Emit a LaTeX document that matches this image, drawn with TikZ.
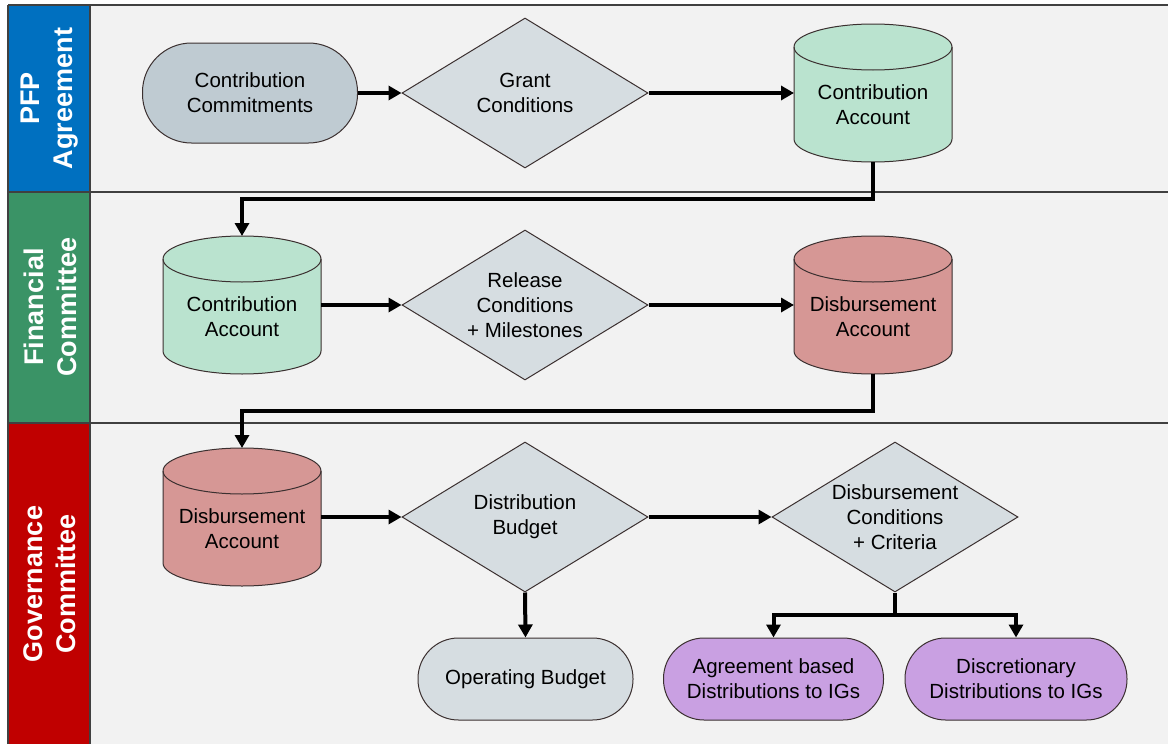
\documentclass[tikz,border=0pt]{standalone}
\usepackage{fontspec}
\setmainfont{Liberation Sans}
\usetikzlibrary{shapes.geometric,arrows.meta}
\definecolor{bgc}{HTML}{F2F2F2}
\definecolor{laneblue}{HTML}{0070C0}
\definecolor{lanegreen}{HTML}{3A9366}
\definecolor{lanered}{HTML}{C00000}
\definecolor{bordc}{HTML}{3B3030}
\definecolor{cgray}{HTML}{BFCBD2}
\definecolor{dgray}{HTML}{D6DDE1}
\definecolor{cgreen}{HTML}{BAE3CF}
\definecolor{cred}{HTML}{D69795}
\definecolor{cpurple}{HTML}{C9A0E2}
\definecolor{linec}{HTML}{404040}
\newcommand\drawcyl[5]{%
  \filldraw[cylshape, fill=#4] (#2-79,-#3+46) -- (#2-79,-#3-46)
    arc[start angle=180,end angle=360,x radius=79,y radius=23]
    -- (#2+79,-#3+46)
    arc[start angle=0,end angle=180,x radius=79,y radius=23] -- cycle;
  \draw[cylshape] (#2-79,-#3+46) arc[start angle=180,end angle=360,x radius=79,y radius=23];
  \node[cylnode] (#1) at (#2,-#3) {};
  \node[cyltext] (#1t) at (#2,-#3-12) {#5};%
}
\begin{document}
\begin{tikzpicture}[x=1pt,y=1pt,
  txtfont/.style={font=\fontsize{20.5}{25}\selectfont},
  box/.style={draw=bordc, line width=1pt, align=center, txtfont, inner sep=0pt},
  dia/.style={box, diamond, fill=dgray, minimum width=246pt, minimum height=150pt, aspect=1.64},
  stad/.style={box, rectangle, minimum height=82pt, rounded corners=40.5pt},
  cylshape/.style={draw=bordc, line width=1pt},
  cylnode/.style={rectangle, minimum width=158pt, minimum height=138pt, inner sep=0pt, outer sep=0pt},
  cyltext/.style={align=center, txtfont, inner sep=0pt},
  lanetxt/.style={text=white, align=center, font=\fontsize{27}{33}\selectfont\bfseries, rotate=90},
  laneline/.style={draw=linec, line width=1.5pt},
  arr/.style={line width=4pt, -{Triangle[length=13pt,width=14pt]}}]
\useasboundingbox (0,0) rectangle (1168,-744);
% backgrounds
\fill[bgc] (8,-5) rectangle (1168,-744);
\fill[laneblue] (8,-5) rectangle (90,-192);
\fill[lanegreen] (8,-192) rectangle (90,-423);
\fill[lanered] (8,-423) rectangle (90,-744);
\draw[laneline] (8,-5) -- (1168,-5);
\draw[laneline] (8,-192) -- (1168,-192);
\draw[laneline] (8,-423) -- (1168,-423);
\draw[laneline] (8,-5) -- (8,-744);
\draw[laneline] (90,-5) -- (90,-744);
% lane labels
\node[lanetxt] (l1) at (50,-98.5) {PFP\\Agreement};
\node[lanetxt] (l2) at (50,-307) {Financial\\Committee};
\node[lanetxt] (l3) at (50,-584) {Governance\\Committee};
% lane 1
\node[stad, fill=cgray, minimum width=215pt, minimum height=100pt, rounded corners=49pt] (cc) at (250,-93) {Contribution\\Commitments};
\node[dia] (gc) at (525,-93) {Grant\\Conditions};
\drawcyl{ca1}{873}{93}{cgreen}{Contribution\\Account}
% lane 2
\drawcyl{ca2}{242}{305}{cgreen}{Contribution\\Account}
\node[dia] (rc) at (525,-305) {Release\\Conditions\\+ Milestones};
\drawcyl{da2}{873}{305}{cred}{Disbursement\\Account}
% lane 3
\drawcyl{da3}{242}{517}{cred}{Disbursement\\Account}
\node[dia] (db) at (525,-517) {Distribution\\Budget};
\node[dia] (dc) at (895,-517) {Disbursement\\Conditions\\+ Criteria};
\node[stad, fill=dgray, minimum width=215pt] (ob) at (525.5,-679) {Operating Budget};
\node[stad, fill=cpurple, minimum width=220pt] (ab) at (773.5,-679) {Agreement based\\Distributions to IGs};
\node[stad, fill=cpurple, minimum width=222pt] (dn) at (1016,-679) {Discretionary\\Distributions to IGs};
% connectors
\draw[arr] (cc.east) -- (gc.west);
\draw[arr] (gc.east) -- (ca1.west);
\draw[arr] (ca1.south) -- ++(0,-37) -| (ca2.north);
\draw[arr] (ca2.east) -- (rc.west);
\draw[arr] (rc.east) -- (da2.west);
\draw[arr] (da2.south) -- ++(0,-37) -| (da3.north);
\draw[arr] (da3.east) -- (db.west);
\draw[arr] (db.east) -- (dc.west);
\draw[arr] (db.south) -- (ob.north);
\draw[line width=4pt] (dc.south) -- ++(0,-22) coordinate (split);
\draw[arr] ([xshift=2pt]split) -| (ab.north);
\draw[arr] ([xshift=-2pt]split) -| (dn.north);
\end{tikzpicture}
\end{document}
